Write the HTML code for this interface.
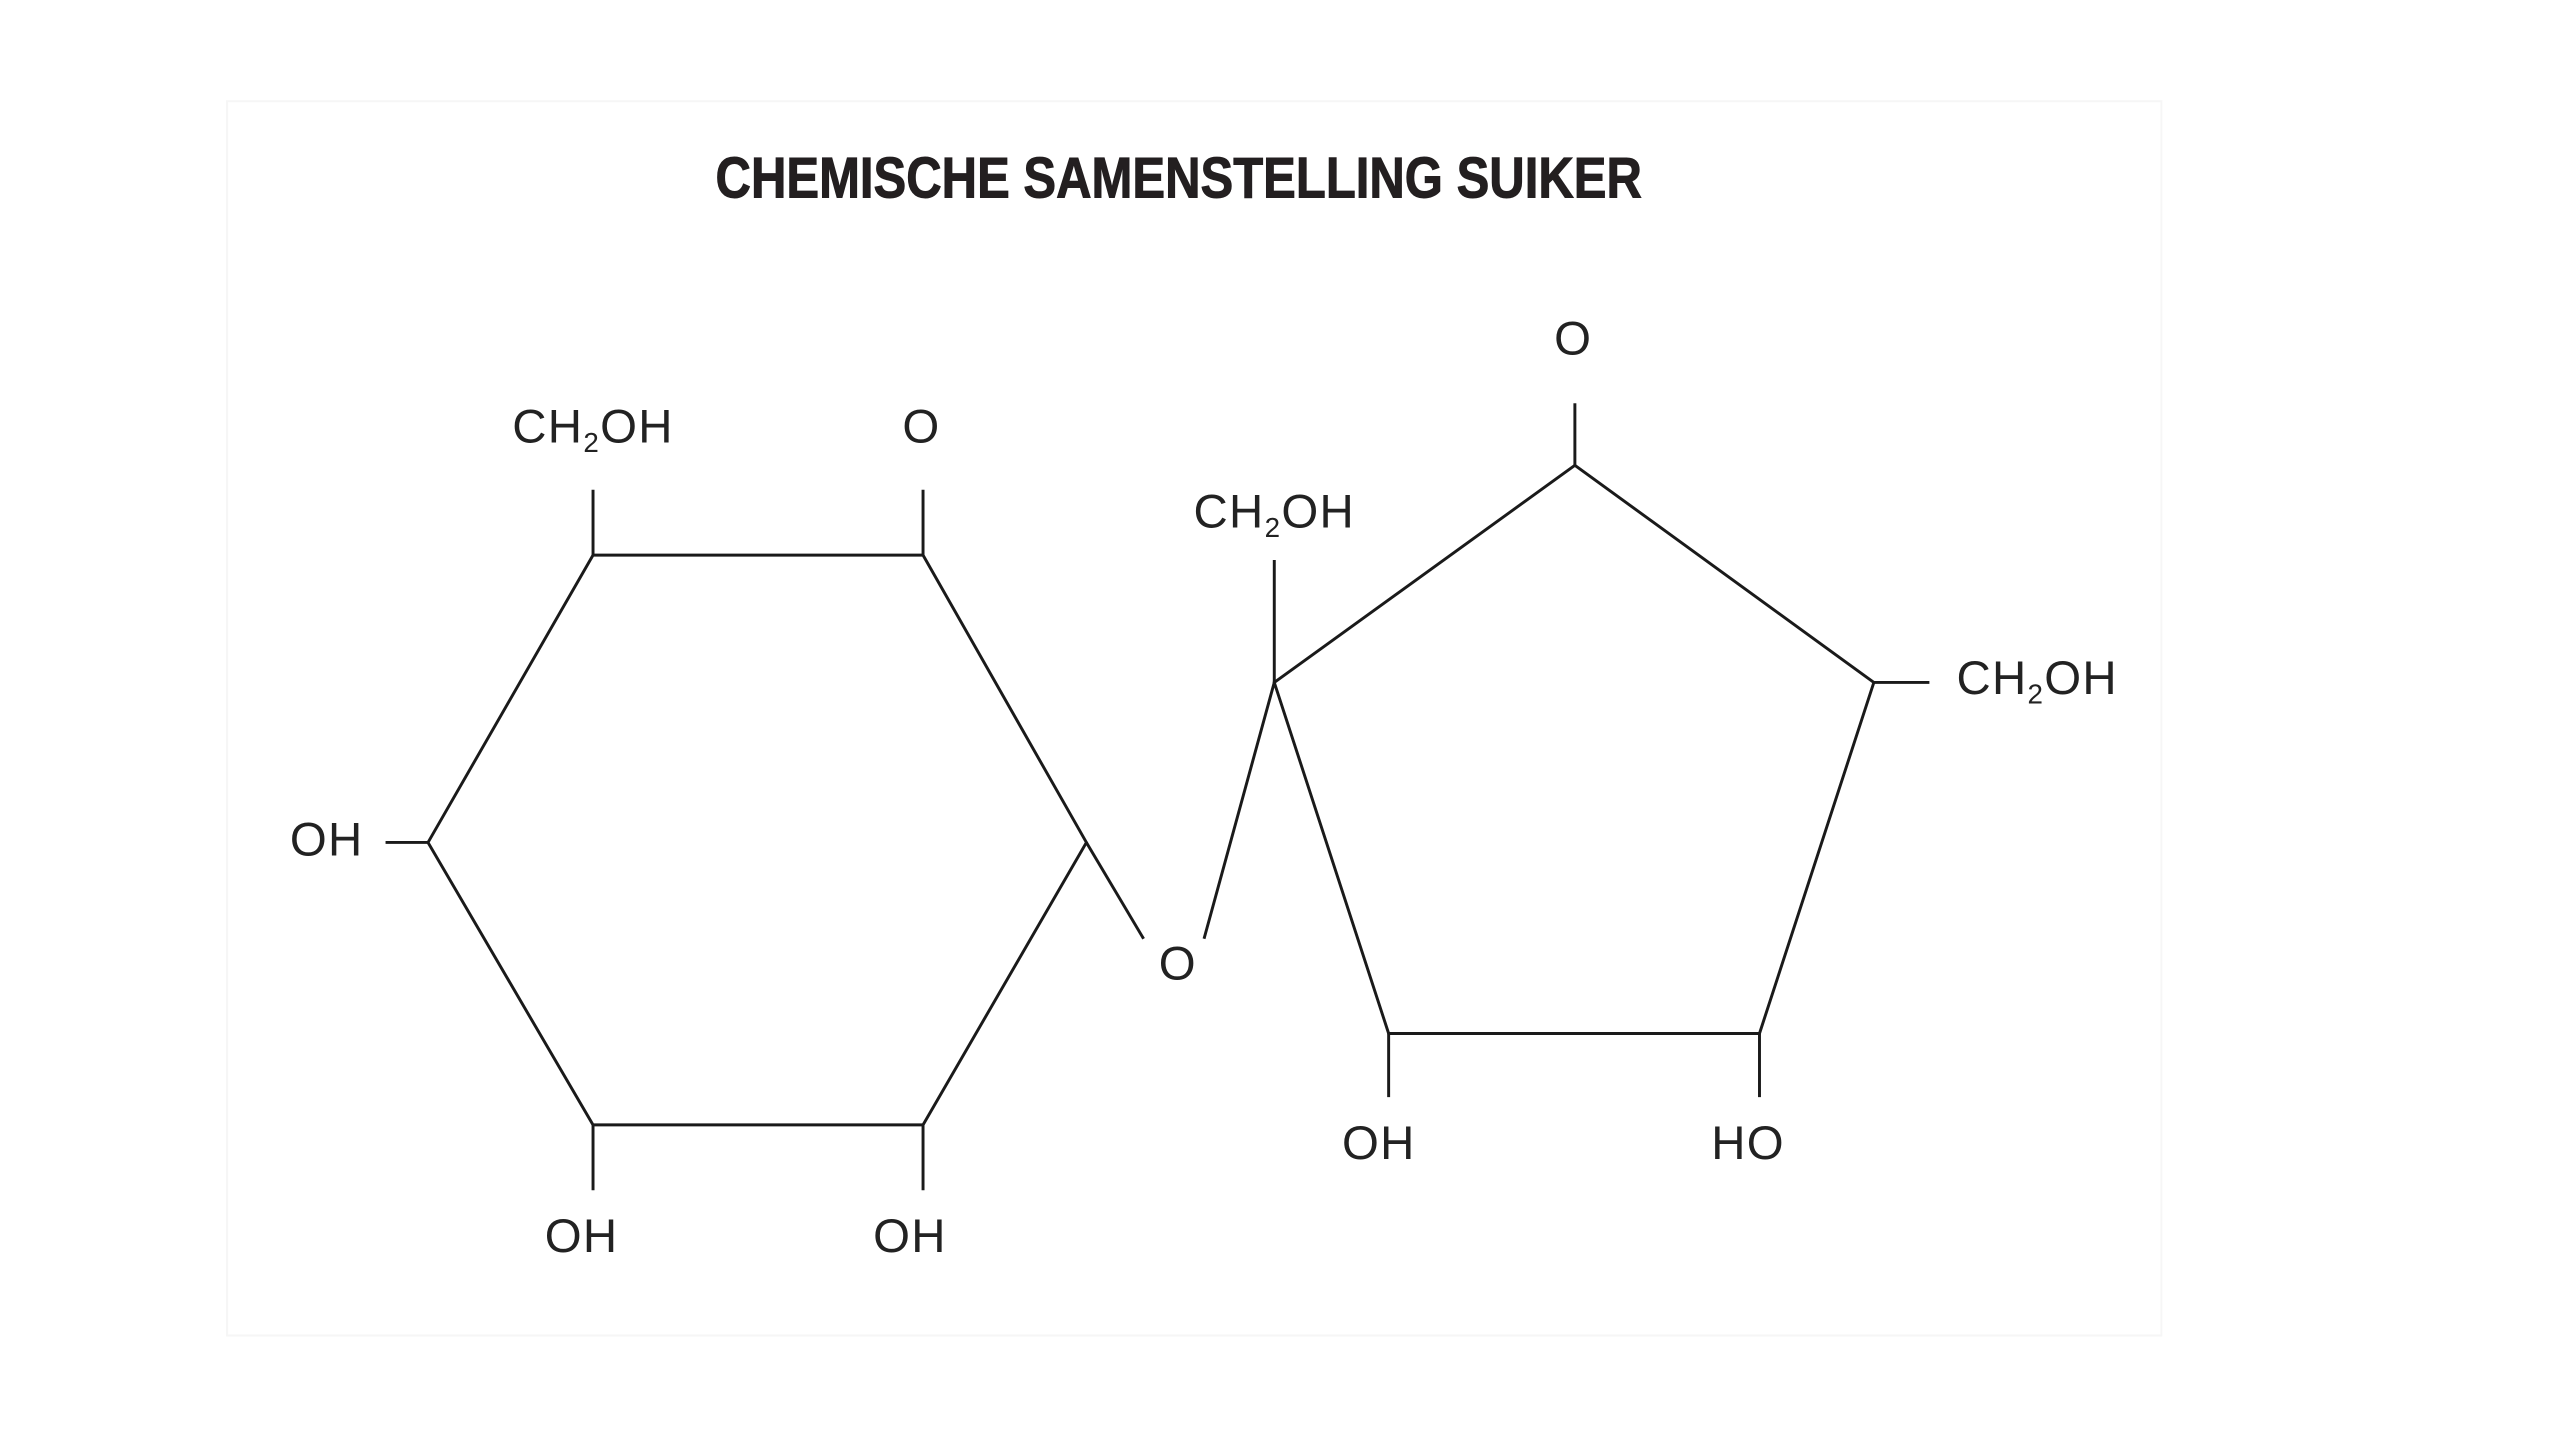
<!DOCTYPE html>
<html><head><meta charset="utf-8"><style>
html,body{margin:0;padding:0;background:#fff;}
svg{display:block;}
</style></head><body>
<svg width="2560" height="1440" viewBox="0 0 1567 882" preserveAspectRatio="none" xmlns="http://www.w3.org/2000/svg">
<rect x="0" y="0" width="1567" height="882" fill="#fff"/>
<rect x="139" y="62" width="1184" height="756" fill="#fff" stroke="#f6f6f6" stroke-width="1.2"/>
<text x="438" y="121" font-family="Liberation Sans, sans-serif" font-weight="bold" font-size="35" fill="#231f20" stroke="#231f20" stroke-width="0.6" textLength="567" lengthAdjust="spacingAndGlyphs">CHEMISCHE SAMENSTELLING SUIKER</text>
<g fill="none" stroke="#1a1a1a" stroke-width="1.8" stroke-linejoin="miter">
<polygon points="363,340 565,340 665,516 565,689 363,689 262,516"/>
<line x1="363" y1="340" x2="363" y2="300"/>
<line x1="565" y1="340" x2="565" y2="300"/>
<line x1="262" y1="516" x2="236" y2="516"/>
<line x1="363" y1="689" x2="363" y2="729"/>
<line x1="565" y1="689" x2="565" y2="729"/>
<line x1="665" y1="516" x2="700" y2="575"/>
<line x1="737" y1="575" x2="780" y2="418"/>
<polygon points="780,418 964,285 1147,418 1077,633 850,633"/>
<line x1="964" y1="285" x2="964" y2="247"/>
<line x1="780" y1="418" x2="780" y2="343"/>
<line x1="1147" y1="418" x2="1181" y2="418"/>
<line x1="850" y1="633" x2="850" y2="672"/>
<line x1="1077" y1="633" x2="1077" y2="672"/>
</g>
<g font-family="Liberation Sans, sans-serif" font-size="29" fill="#222" text-anchor="middle" letter-spacing="0.8">
<text x="363" y="271">CH<tspan font-size="17" dy="6">2</tspan><tspan dy="-6">OH</tspan></text>
<text x="564" y="271">O</text>
<text x="780" y="323">CH<tspan font-size="17" dy="6">2</tspan><tspan dy="-6">OH</tspan></text>
<text x="963" y="217">O</text>
<text x="1247" y="425">CH<tspan font-size="17" dy="6">2</tspan><tspan dy="-6">OH</tspan></text>
<text x="200" y="524">OH</text>
<text x="356" y="767">OH</text>
<text x="557" y="767">OH</text>
<text x="721" y="600">O</text>
<text x="844" y="710">OH</text>
<text x="1070" y="710">HO</text>
</g>
</svg>
</body></html>
